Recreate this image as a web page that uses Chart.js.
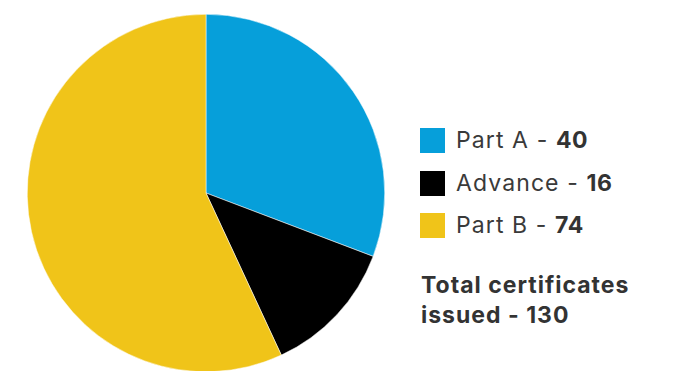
<!DOCTYPE html>
<html>
<head>
<meta charset="utf-8">
<script src="https://cdn.jsdelivr.net/npm/chart.js@4/dist/chart.umd.min.js"></script>
<style>
  html, body { margin: 0; padding: 0; background: #fff; overflow: hidden; width: 673px; height: 371px; }
  #wrap { position: absolute; left: 0; top: 0; width: 412px; height: 386px; }
  #legend { position: absolute; left: 420px; top: 125px; font-family: Inter, "Noto Sans", sans-serif; color: #3a3a3a; }
  .item { position: relative; height: 42.5px; }
  .sw { position: absolute; left: 0; top: 3px; width: 25px; height: 25px; }
  .lbl { position: absolute; left: 36px; top: 0px; font-size: 23px; line-height: 30px; letter-spacing: 1.1px; white-space: nowrap; }
  .lbl b { font-weight: 700; color: #333; letter-spacing: 0.6px; }
  #total { position: absolute; left: 421px; top: 270px; font-family: Inter, "Noto Sans", sans-serif; font-weight: 700; font-size: 23px; line-height: 30px; letter-spacing: 1px; color: #333; white-space: nowrap; }
</style>
</head>
<body>
<div id="wrap"><canvas id="c"></canvas></div>
<div id="legend"></div>
<div id="total"></div>
<script>
const categories = ["Part A", "Advance", "Part B"];
const values = [40, 16, 74];
const colors = ["#069FDA", "#000000", "#F0C419"];
const totalLabel = "Total certificates";
const totalLabel2 = "issued - ";

const total = values.reduce((a, b) => a + b, 0);

new Chart(document.getElementById("c"), {
  type: "pie",
  data: {
    labels: categories,
    datasets: [{
      data: values,
      backgroundColor: colors,
      borderColor: "#ffffff",
      borderWidth: 0.5
    }]
  },
  options: {
    responsive: true,
    maintainAspectRatio: false,
    animation: false,
    layout: { padding: 14 },
    plugins: { legend: { display: false }, tooltip: { enabled: false } }
  }
});

const leg = document.getElementById("legend");
categories.forEach((c, i) => {
  const it = document.createElement("div");
  it.className = "item";
  const sw = document.createElement("div");
  sw.className = "sw";
  sw.style.background = colors[i];
  const lb = document.createElement("div");
  lb.className = "lbl";
  lb.innerHTML = c + " - <b>" + values[i] + "</b>";
  it.appendChild(sw);
  it.appendChild(lb);
  leg.appendChild(it);
});
document.getElementById("total").innerHTML = totalLabel + "<br>" + totalLabel2 + total;
</script>
</body>
</html>
